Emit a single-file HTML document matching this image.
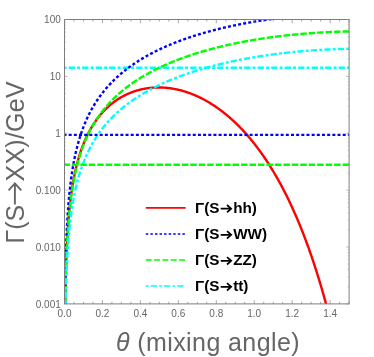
<!DOCTYPE html>
<html><head><meta charset="utf-8"><title>Decay widths vs mixing angle</title><style>
html,body{margin:0;padding:0;background:#fff}body{width:374px;height:357px;position:relative;overflow:hidden;font-family:"Liberation Sans",sans-serif}
</style></head><body>
<svg width="374" height="357" viewBox="0 0 374 357" style="position:absolute;left:0;top:0;will-change:transform;font-family:'Liberation Sans',sans-serif">
<defs><clipPath id="c"><rect x="64.5" y="19.5" width="284.6" height="284.4"/></clipPath>
</defs>
<g clip-path="url(#c)" fill="none" stroke-linecap="butt" stroke-linejoin="round">
<path d="M64.5 67.8 H349.5" stroke="#00ffff" stroke-width="2.4" stroke-dasharray="6.2 2.2 2.9 2.2" stroke-dashoffset="9.3"/>
<path d="M64.57 416.81 L64.58 415.89 L64.58 414.97 L64.58 414.05 L64.58 413.13 L64.58 412.21 L64.58 411.29 L64.58 410.38 L64.59 409.46 L64.59 408.54 L64.59 407.62 L64.59 406.70 L64.59 405.78 L64.59 404.86 L64.60 403.94 L64.60 403.02 L64.60 402.10 L64.60 401.19 L64.60 400.27 L64.61 399.35 L64.61 398.43 L64.61 397.51 L64.61 396.59 L64.61 395.67 L64.62 394.75 L64.62 393.83 L64.62 392.92 L64.62 392.00 L64.62 391.08 L64.63 390.16 L64.63 389.24 L64.63 388.32 L64.63 387.40 L64.64 386.48 L64.64 385.56 L64.64 384.64 L64.64 383.73 L64.65 382.81 L64.65 381.89 L64.65 380.97 L64.66 380.05 L64.66 379.13 L64.66 378.21 L64.66 377.29 L64.67 376.37 L64.67 375.46 L64.67 374.54 L64.68 373.62 L64.68 372.70 L64.68 371.78 L64.69 370.86 L64.69 369.94 L64.69 369.02 L64.70 368.10 L64.70 367.18 L64.71 366.27 L64.71 365.35 L64.71 364.43 L64.72 363.51 L64.72 362.59 L64.73 361.67 L64.73 360.75 L64.73 359.83 L64.74 358.91 L64.74 358.00 L64.75 357.08 L64.75 356.16 L64.76 355.24 L64.76 354.32 L64.77 353.40 L64.77 352.48 L64.78 351.56 L64.78 350.64 L64.79 349.72 L64.79 348.81 L64.80 347.89 L64.80 346.97 L64.81 346.05 L64.82 345.13 L64.82 344.21 L64.83 343.29 L64.83 342.37 L64.84 341.45 L64.85 340.53 L64.85 339.62 L64.86 338.70 L64.87 337.78 L64.87 336.86 L64.88 335.94 L64.89 335.02 L64.90 334.10 L64.90 333.18 L64.91 332.26 L64.92 331.35 L64.93 330.43 L64.93 329.51 L64.94 328.59 L64.95 327.67 L64.96 326.75 L64.97 325.83 L64.98 324.91 L64.99 323.99 L64.99 323.08 L65.00 322.16 L65.01 321.24 L65.02 320.32 L65.03 319.40 L65.04 318.48 L65.05 317.56 L65.06 316.64 L65.07 315.72 L65.08 314.80 L65.10 313.89 L65.11 312.97 L65.12 312.05 L65.13 311.13 L65.14 310.21 L65.15 309.29 L65.17 308.37 L65.18 307.45 L65.19 306.53 L65.20 305.62 L65.22 304.70 L65.23 303.78 L65.24 302.86 L65.26 301.94 L65.27 301.02 L65.29 300.10 L65.30 299.18 L65.32 298.26 L65.33 297.35 L65.35 296.43 L65.36 295.51 L65.38 294.59 L65.40 293.67 L65.41 292.75 L65.43 291.83 L65.45 290.91 L65.47 289.99 L65.48 289.08 L65.50 288.16 L65.52 287.24 L65.54 286.32 L65.56 285.40 L65.58 284.48 L65.60 283.56 L65.62 282.64 L65.64 281.72 L65.66 280.81 L65.69 279.89 L65.71 278.97 L65.73 278.05 L65.75 277.13 L65.78 276.21 L65.80 275.29 L65.83 274.37 L65.85 273.46 L65.88 272.54 L65.90 271.62 L65.93 270.70 L65.96 269.78 L65.98 268.86 L66.01 267.94 L66.04 267.02 L66.07 266.11 L66.10 265.19 L66.13 264.27 L66.16 263.35 L66.19 262.43 L66.22 261.51 L66.25 260.59 L66.29 259.67 L66.32 258.76 L66.35 257.84 L66.39 256.92 L66.42 256.00 L66.46 255.08 L66.50 254.16 L66.53 253.24 L66.57 252.33 L66.61 251.41 L66.65 250.49 L66.69 249.57 L66.73 248.65 L66.78 247.73 L66.82 246.81 L66.86 245.90 L66.91 244.98 L66.95 244.06 L67.00 243.14 L67.04 242.22 L67.09 241.30 L67.14 240.39 L67.19 239.47 L67.24 238.55 L67.29 237.63 L67.34 236.71 L67.40 235.79 L67.45 234.88 L67.51 233.96 L67.56 233.04 L67.62 232.12 L67.68 231.20 L67.74 230.29 L67.80 229.37 L67.86 228.45 L67.93 227.53 L67.99 226.61 L68.06 225.70 L68.12 224.78 L68.19 223.86 L68.26 222.94 L68.33 222.03 L68.40 221.11 L68.48 220.19 L68.55 219.27 L68.63 218.36 L68.71 217.44 L68.79 216.52 L68.87 215.60 L68.95 214.69 L69.03 213.77 L69.12 212.85 L69.20 211.94 L69.29 211.02 L69.38 210.10 L69.47 209.19 L69.57 208.27 L69.66 207.35 L69.76 206.44 L69.86 205.52 L69.96 204.60 L70.06 203.69 L70.17 202.77 L70.27 201.86 L70.38 200.94 L70.49 200.02 L70.60 199.11 L70.72 198.19 L70.84 197.28 L70.95 196.36 L71.08 195.45 L71.20 194.53 L71.33 193.62 L71.45 192.70 L71.58 191.79 L71.72 190.88 L71.85 189.96 L71.99 189.05 L72.13 188.13 L72.28 187.22 L72.42 186.31 L72.57 185.39 L72.72 184.48 L72.88 183.57 L73.03 182.66 L73.19 181.75 L73.36 180.83 L73.52 179.92 L73.69 179.01 L73.87 178.10 L74.04 177.19 L74.22 176.28 L74.40 175.37 L74.59 174.46 L74.78 173.55 L74.97 172.64 L75.17 171.73 L75.37 170.82 L75.58 169.92 L75.78 169.01 L76.00 168.10 L76.21 167.20 L76.43 166.29 L76.66 165.39 L76.88 164.48 L77.12 163.58 L77.35 162.67 L77.60 161.77 L77.84 160.87 L78.09 159.96 L78.35 159.06 L78.61 158.16 L78.87 157.26 L79.14 156.36 L79.42 155.47 L79.70 154.57 L80.15 153.16 L80.60 151.80 L81.05 150.48 L81.50 149.19 L81.95 147.94 L82.40 146.73 L82.85 145.55 L83.30 144.39 L83.75 143.27 L84.20 142.17 L84.65 141.10 L85.10 140.06 L85.55 139.04 L86.00 138.05 L86.44 137.07 L86.89 136.12 L87.34 135.19 L87.79 134.28 L88.24 133.39 L88.69 132.52 L89.14 131.67 L89.59 130.83 L90.04 130.02 L90.49 129.21 L90.94 128.43 L91.39 127.65 L91.84 126.90 L92.29 126.16 L92.74 125.43 L93.19 124.71 L93.64 124.01 L94.09 123.32 L94.54 122.65 L94.99 121.98 L95.44 121.33 L95.89 120.69 L96.34 120.06 L96.79 119.44 L97.24 118.83 L97.69 118.23 L98.14 117.65 L98.59 117.07 L99.04 116.50 L99.49 115.94 L99.94 115.39 L100.38 114.85 L100.83 114.32 L101.28 113.80 L101.73 113.28 L102.18 112.77 L102.63 112.28 L103.08 111.79 L103.53 111.30 L103.98 110.83 L104.43 110.36 L104.88 109.90 L105.33 109.45 L105.78 109.00 L106.23 108.56 L106.68 108.13 L107.13 107.70 L107.58 107.28 L108.03 106.87 L108.48 106.47 L108.93 106.07 L109.38 105.67 L109.83 105.28 L110.28 104.90 L110.73 104.53 L111.18 104.16 L111.63 103.79 L112.08 103.43 L112.53 103.08 L112.98 102.73 L113.43 102.39 L113.87 102.05 L114.32 101.72 L114.77 101.39 L115.22 101.07 L115.67 100.75 L116.12 100.44 L116.57 100.13 L117.02 99.83 L117.47 99.53 L117.92 99.24 L118.37 98.95 L118.82 98.67 L119.27 98.39 L119.72 98.11 L120.17 97.84 L120.62 97.58 L121.07 97.32 L121.52 97.06 L121.97 96.81 L122.42 96.56 L122.87 96.31 L123.32 96.07 L123.77 95.83 L124.22 95.60 L124.67 95.37 L125.12 95.15 L125.57 94.92 L126.02 94.71 L126.47 94.49 L126.92 94.28 L127.36 94.08 L127.81 93.87 L128.26 93.68 L128.71 93.48 L129.16 93.29 L129.61 93.10 L130.06 92.92 L130.51 92.74 L130.96 92.56 L131.41 92.38 L131.86 92.21 L132.31 92.05 L132.76 91.88 L133.21 91.72 L133.66 91.56 L134.11 91.41 L134.56 91.26 L135.01 91.11 L135.46 90.97 L135.91 90.83 L136.36 90.69 L136.81 90.55 L137.26 90.42 L137.71 90.29 L138.16 90.17 L138.61 90.04 L139.06 89.92 L139.51 89.81 L139.96 89.69 L140.41 89.58 L140.85 89.48 L141.30 89.37 L141.75 89.27 L142.20 89.17 L142.65 89.08 L143.10 88.98 L143.55 88.89 L144.00 88.81 L144.45 88.72 L144.90 88.64 L145.35 88.56 L145.80 88.48 L146.25 88.41 L146.70 88.34 L147.15 88.27 L147.60 88.21 L148.05 88.15 L148.50 88.09 L148.95 88.03 L149.40 87.98 L149.85 87.92 L150.30 87.88 L150.75 87.83 L151.20 87.79 L151.65 87.75 L152.10 87.71 L152.55 87.67 L153.00 87.64 L153.45 87.61 L153.89 87.58 L154.34 87.56 L154.79 87.53 L155.24 87.51 L155.69 87.50 L156.14 87.48 L156.59 87.47 L157.04 87.46 L157.49 87.45 L157.94 87.45 L158.39 87.44 L158.84 87.44 L159.29 87.45 L159.74 87.45 L160.19 87.46 L160.64 87.47 L161.09 87.48 L161.54 87.50 L161.99 87.51 L162.44 87.53 L162.89 87.56 L163.34 87.58 L163.79 87.61 L164.24 87.64 L164.69 87.67 L165.14 87.70 L165.59 87.74 L166.04 87.78 L166.49 87.82 L166.94 87.87 L167.38 87.91 L167.83 87.96 L168.28 88.01 L168.73 88.07 L169.18 88.12 L169.63 88.18 L170.08 88.24 L170.53 88.31 L170.98 88.37 L171.43 88.44 L171.88 88.51 L172.33 88.58 L172.78 88.66 L173.23 88.73 L173.68 88.81 L174.13 88.90 L174.58 88.98 L175.03 89.07 L175.48 89.16 L175.93 89.25 L176.38 89.34 L176.83 89.44 L177.28 89.54 L177.73 89.64 L178.18 89.74 L178.63 89.85 L179.08 89.95 L179.53 90.06 L179.98 90.18 L180.43 90.29 L180.88 90.41 L181.32 90.53 L181.77 90.65 L182.22 90.77 L182.67 90.90 L183.12 91.03 L183.57 91.16 L184.02 91.29 L184.47 91.43 L184.92 91.57 L185.37 91.71 L185.82 91.85 L186.27 92.00 L186.72 92.14 L187.17 92.29 L187.62 92.45 L188.07 92.60 L188.52 92.76 L188.97 92.92 L189.42 93.08 L189.87 93.24 L190.32 93.41 L190.77 93.58 L191.22 93.75 L191.67 93.92 L192.12 94.10 L192.57 94.28 L193.02 94.46 L193.47 94.64 L193.92 94.82 L194.36 95.01 L194.81 95.20 L195.26 95.39 L195.71 95.59 L196.16 95.79 L196.61 95.99 L197.06 96.19 L197.51 96.39 L197.96 96.60 L198.41 96.81 L198.86 97.02 L199.31 97.23 L199.76 97.45 L200.21 97.67 L200.66 97.89 L201.11 98.11 L201.56 98.34 L202.01 98.57 L202.46 98.80 L202.91 99.03 L203.36 99.27 L203.81 99.51 L204.26 99.75 L204.71 99.99 L205.16 100.24 L205.61 100.48 L206.06 100.73 L206.51 100.99 L206.96 101.24 L207.41 101.50 L207.85 101.76 L208.30 102.02 L208.75 102.29 L209.20 102.56 L209.65 102.83 L210.10 103.10 L210.55 103.38 L211.00 103.66 L211.45 103.94 L211.90 104.22 L212.35 104.51 L212.80 104.79 L213.25 105.09 L213.70 105.38 L214.15 105.67 L214.60 105.97 L215.05 106.27 L215.50 106.58 L215.95 106.89 L216.40 107.19 L216.85 107.51 L217.30 107.82 L217.75 108.14 L218.20 108.46 L218.65 108.78 L219.10 109.11 L219.55 109.43 L220.00 109.76 L220.45 110.10 L220.90 110.43 L221.34 110.77 L221.79 111.11 L222.24 111.46 L222.69 111.80 L223.14 112.15 L223.59 112.50 L224.04 112.86 L224.49 113.22 L224.94 113.58 L225.39 113.94 L225.84 114.31 L226.29 114.68 L226.74 115.05 L227.19 115.42 L227.64 115.80 L228.09 116.18 L228.54 116.56 L228.99 116.95 L229.44 117.34 L229.89 117.73 L230.34 118.12 L230.79 118.52 L231.24 118.92 L231.69 119.33 L232.14 119.73 L232.59 120.14 L233.04 120.55 L233.49 120.97 L233.94 121.39 L234.39 121.81 L234.83 122.23 L235.28 122.66 L235.73 123.09 L236.18 123.52 L236.63 123.96 L237.08 124.40 L237.53 124.84 L237.98 125.29 L238.43 125.74 L238.88 126.19 L239.33 126.64 L239.78 127.10 L240.23 127.56 L240.68 128.03 L241.13 128.50 L241.58 128.97 L242.03 129.44 L242.48 129.92 L242.93 130.40 L243.38 130.89 L243.83 131.37 L244.28 131.86 L244.73 132.36 L245.18 132.86 L245.63 133.36 L246.08 133.86 L246.53 134.37 L246.98 134.88 L247.43 135.39 L247.88 135.91 L248.32 136.43 L248.77 136.96 L249.22 137.49 L249.67 138.02 L250.12 138.55 L250.57 139.09 L251.02 139.63 L251.47 140.18 L251.92 140.73 L252.37 141.28 L252.82 141.84 L253.27 142.40 L253.72 142.96 L254.17 143.53 L254.62 144.10 L255.07 144.68 L255.52 145.26 L255.97 145.84 L256.42 146.43 L256.87 147.02 L257.32 147.61 L257.77 148.21 L258.22 148.81 L258.67 149.42 L259.12 150.03 L259.57 150.64 L260.02 151.26 L260.47 151.88 L260.92 152.50 L261.37 153.13 L261.81 153.77 L262.26 154.41 L262.71 155.05 L263.16 155.69 L263.61 156.34 L264.06 157.00 L264.51 157.66 L264.96 158.32 L265.41 158.99 L265.86 159.66 L266.31 160.33 L266.76 161.01 L267.21 161.70 L267.66 162.38 L268.11 163.08 L268.56 163.78 L269.01 164.48 L269.46 165.18 L269.91 165.89 L270.36 166.61 L270.81 167.33 L271.26 168.05 L271.71 168.78 L272.16 169.52 L272.61 170.26 L273.06 171.00 L273.51 171.75 L273.96 172.50 L274.41 173.26 L274.86 174.02 L275.30 174.79 L275.75 175.56 L276.20 176.34 L276.65 177.12 L277.10 177.91 L277.55 178.70 L278.00 179.50 L278.45 180.30 L278.90 181.11 L279.35 181.92 L279.80 182.74 L280.25 183.56 L280.70 184.39 L281.15 185.22 L281.60 186.06 L282.05 186.91 L282.50 187.76 L282.95 188.61 L283.40 189.47 L283.85 190.34 L284.30 191.21 L284.75 192.09 L285.20 192.97 L285.65 193.86 L286.10 194.76 L286.55 195.66 L287.00 196.57 L287.45 197.48 L287.90 198.40 L288.35 199.32 L288.80 200.25 L289.24 201.19 L289.69 202.13 L290.14 203.08 L290.59 204.04 L291.04 205.00 L291.49 205.97 L291.94 206.94 L292.39 207.92 L292.84 208.91 L293.29 209.90 L293.74 210.90 L294.19 211.91 L294.64 212.92 L295.09 213.94 L295.54 214.97 L295.99 216.00 L296.44 217.04 L296.89 218.09 L297.34 219.15 L297.79 220.21 L298.24 221.28 L298.69 222.35 L299.14 223.43 L299.59 224.53 L300.04 225.62 L300.49 226.73 L300.94 227.84 L301.39 228.96 L301.84 230.09 L302.29 231.22 L302.73 232.37 L303.18 233.52 L303.63 234.68 L304.08 235.84 L304.53 237.02 L304.98 238.20 L305.43 239.39 L305.88 240.59 L306.33 241.80 L306.78 243.01 L307.23 244.23 L307.68 245.47 L308.13 246.71 L308.58 247.96 L309.03 249.21 L309.48 250.48 L309.93 251.75 L310.38 253.04 L310.83 254.33 L311.28 255.63 L311.73 256.94 L312.18 258.26 L312.63 259.59 L313.08 260.93 L313.53 262.28 L313.98 263.64 L314.43 265.00 L314.88 266.38 L315.33 267.77 L315.77 269.16 L316.22 270.57 L316.67 271.98 L317.12 273.41 L317.57 274.84 L318.02 276.29 L318.47 277.75 L318.92 279.21 L319.37 280.69 L319.82 282.17 L320.27 283.67 L320.72 285.18 L321.17 286.70 L321.62 288.22 L322.07 289.76 L322.52 291.31 L322.97 292.87 L323.42 294.44 L323.87 296.02 L324.32 297.62 L324.77 299.22 L325.22 300.84 L325.67 302.46 L326.12 304.10 L326.57 305.74 L327.02 307.40 L327.47 309.07 L327.92 310.75 L328.37 312.44 L328.82 314.14 L329.26 315.86 L329.71 317.58 L330.16 319.31 L330.61 321.06 L331.06 322.81 L331.51 324.58 L331.96 326.35 L332.41 328.14 L332.86 329.94 L333.31 331.74 L333.76 333.56 L334.21 335.38 L334.66 337.21 L335.11 339.05 L335.56 340.90 L336.01 342.76 L336.46 344.62 L336.91 346.50 L337.36 348.37 L337.81 350.26 L338.26 352.14 L338.71 354.03 L339.16 355.93 L339.61 357.82 L340.06 359.72 L340.51 361.62 L340.96 363.51 L341.41 365.40 L341.86 367.29 L342.31 369.17 L342.75 371.04 L343.20 372.90 L343.65 374.74 L344.10 376.57 L344.55 378.38 L345.00 380.17 L345.45 381.92 L345.90 383.65 L346.35 385.34 L346.80 386.98 L347.25 388.58 L347.70 390.12 L348.15 391.59 L348.60 392.99 L349.05 394.30 L349.50 395.52" stroke="#ff0000" stroke-width="2.4"/>
<path d="M64.56 413.46 L64.56 412.54 L64.56 411.62 L64.56 410.70 L64.56 409.78 L64.56 408.87 L64.56 407.95 L64.56 407.03 L64.57 406.11 L64.57 405.19 L64.57 404.27 L64.57 403.35 L64.57 402.43 L64.57 401.51 L64.57 400.60 L64.58 399.68 L64.58 398.76 L64.58 397.84 L64.58 396.92 L64.58 396.00 L64.58 395.08 L64.58 394.16 L64.59 393.24 L64.59 392.32 L64.59 391.41 L64.59 390.49 L64.59 389.57 L64.59 388.65 L64.60 387.73 L64.60 386.81 L64.60 385.89 L64.60 384.97 L64.60 384.05 L64.61 383.14 L64.61 382.22 L64.61 381.30 L64.61 380.38 L64.61 379.46 L64.62 378.54 L64.62 377.62 L64.62 376.70 L64.62 375.78 L64.62 374.86 L64.63 373.95 L64.63 373.03 L64.63 372.11 L64.63 371.19 L64.64 370.27 L64.64 369.35 L64.64 368.43 L64.64 367.51 L64.65 366.59 L64.65 365.68 L64.65 364.76 L64.66 363.84 L64.66 362.92 L64.66 362.00 L64.66 361.08 L64.67 360.16 L64.67 359.24 L64.67 358.32 L64.68 357.40 L64.68 356.49 L64.68 355.57 L64.69 354.65 L64.69 353.73 L64.69 352.81 L64.70 351.89 L64.70 350.97 L64.71 350.05 L64.71 349.13 L64.71 348.21 L64.72 347.30 L64.72 346.38 L64.73 345.46 L64.73 344.54 L64.73 343.62 L64.74 342.70 L64.74 341.78 L64.75 340.86 L64.75 339.94 L64.76 339.03 L64.76 338.11 L64.77 337.19 L64.77 336.27 L64.78 335.35 L64.78 334.43 L64.79 333.51 L64.79 332.59 L64.80 331.67 L64.80 330.75 L64.81 329.84 L64.82 328.92 L64.82 328.00 L64.83 327.08 L64.83 326.16 L64.84 325.24 L64.85 324.32 L64.85 323.40 L64.86 322.48 L64.87 321.57 L64.87 320.65 L64.88 319.73 L64.89 318.81 L64.90 317.89 L64.90 316.97 L64.91 316.05 L64.92 315.13 L64.93 314.21 L64.93 313.29 L64.94 312.38 L64.95 311.46 L64.96 310.54 L64.97 309.62 L64.98 308.70 L64.99 307.78 L64.99 306.86 L65.00 305.94 L65.01 305.02 L65.02 304.10 L65.03 303.19 L65.04 302.27 L65.05 301.35 L65.06 300.43 L65.07 299.51 L65.08 298.59 L65.10 297.67 L65.11 296.75 L65.12 295.83 L65.13 294.92 L65.14 294.00 L65.15 293.08 L65.17 292.16 L65.18 291.24 L65.19 290.32 L65.20 289.40 L65.22 288.48 L65.23 287.56 L65.24 286.64 L65.26 285.73 L65.27 284.81 L65.29 283.89 L65.30 282.97 L65.32 282.05 L65.33 281.13 L65.35 280.21 L65.36 279.29 L65.38 278.37 L65.40 277.46 L65.41 276.54 L65.43 275.62 L65.45 274.70 L65.47 273.78 L65.48 272.86 L65.50 271.94 L65.52 271.02 L65.54 270.10 L65.56 269.18 L65.58 268.27 L65.60 267.35 L65.62 266.43 L65.64 265.51 L65.66 264.59 L65.69 263.67 L65.71 262.75 L65.73 261.83 L65.75 260.91 L65.78 260.00 L65.80 259.08 L65.83 258.16 L65.85 257.24 L65.88 256.32 L65.90 255.40 L65.93 254.48 L65.96 253.56 L65.98 252.64 L66.01 251.72 L66.04 250.81 L66.07 249.89 L66.10 248.97 L66.13 248.05 L66.16 247.13 L66.19 246.21 L66.22 245.29 L66.25 244.37 L66.29 243.45 L66.32 242.54 L66.35 241.62 L66.39 240.70 L66.42 239.78 L66.46 238.86 L66.50 237.94 L66.53 237.02 L66.57 236.10 L66.61 235.18 L66.65 234.27 L66.69 233.35 L66.73 232.43 L66.78 231.51 L66.82 230.59 L66.86 229.67 L66.91 228.75 L66.95 227.83 L67.00 226.91 L67.04 226.00 L67.09 225.08 L67.14 224.16 L67.19 223.24 L67.24 222.32 L67.29 221.40 L67.34 220.48 L67.40 219.56 L67.45 218.64 L67.51 217.73 L67.56 216.81 L67.62 215.89 L67.68 214.97 L67.74 214.05 L67.80 213.13 L67.86 212.21 L67.93 211.29 L67.99 210.37 L68.06 209.46 L68.12 208.54 L68.19 207.62 L68.26 206.70 L68.33 205.78 L68.40 204.86 L68.48 203.94 L68.55 203.02 L68.63 202.10 L68.71 201.19 L68.79 200.27 L68.87 199.35 L68.95 198.43 L69.03 197.51 L69.12 196.59 L69.20 195.67 L69.29 194.75 L69.38 193.84 L69.47 192.92 L69.57 192.00 L69.66 191.08 L69.76 190.16 L69.86 189.24 L69.96 188.32 L70.06 187.40 L70.17 186.49 L70.27 185.57 L70.38 184.65 L70.49 183.73 L70.60 182.81 L70.72 181.89 L70.84 180.97 L70.95 180.06 L71.08 179.14 L71.20 178.22 L71.33 177.30 L71.45 176.38 L71.58 175.46 L71.72 174.54 L71.85 173.63 L71.99 172.71 L72.13 171.79 L72.28 170.87 L72.42 169.95 L72.57 169.03 L72.72 168.11 L72.88 167.20 L73.03 166.28 L73.19 165.36 L73.36 164.44 L73.52 163.52 L73.69 162.60 L73.87 161.69 L74.04 160.77 L74.22 159.85 L74.40 158.93 L74.59 158.01 L74.78 157.10 L74.97 156.18 L75.17 155.26 L75.37 154.34 L75.58 153.42 L75.78 152.51 L76.00 151.59 L76.21 150.67 L76.43 149.75 L76.66 148.83 L76.88 147.92 L77.12 147.00 L77.35 146.08 L77.60 145.16 L77.84 144.25 L78.09 143.33 L78.35 142.41 L78.61 141.49 L78.87 140.58 L79.14 139.66 L79.42 138.74 L79.70 137.83 L80.15 136.39 L80.60 135.00 L81.05 133.64 L81.50 132.32 L81.95 131.03 L82.40 129.78 L82.85 128.56 L83.30 127.37 L83.75 126.21 L84.20 125.07 L84.65 123.96 L85.10 122.88 L85.55 121.82 L86.00 120.78 L86.44 119.76 L86.89 118.76 L87.34 117.79 L87.79 116.83 L88.24 115.89 L88.69 114.97 L89.14 114.06 L89.59 113.18 L90.04 112.31 L90.49 111.45 L90.94 110.61 L91.39 109.78 L91.84 108.97 L92.29 108.17 L92.74 107.38 L93.19 106.61 L93.64 105.85 L94.09 105.10 L94.54 104.36 L94.99 103.63 L95.44 102.92 L95.89 102.21 L96.34 101.52 L96.79 100.83 L97.24 100.15 L97.69 99.49 L98.14 98.83 L98.59 98.18 L99.04 97.54 L99.49 96.91 L99.94 96.29 L100.38 95.67 L100.83 95.07 L101.28 94.47 L101.73 93.87 L102.18 93.29 L102.63 92.71 L103.08 92.14 L103.53 91.58 L103.98 91.02 L104.43 90.47 L104.88 89.92 L105.33 89.39 L105.78 88.85 L106.23 88.33 L106.68 87.81 L107.13 87.29 L107.58 86.78 L108.03 86.28 L108.48 85.78 L108.93 85.29 L109.38 84.80 L109.83 84.32 L110.28 83.84 L110.73 83.37 L111.18 82.90 L111.63 82.44 L112.08 81.98 L112.53 81.52 L112.98 81.07 L113.43 80.63 L113.87 80.19 L114.32 79.75 L114.77 79.31 L115.22 78.89 L115.67 78.46 L116.12 78.04 L116.57 77.62 L117.02 77.21 L117.47 76.80 L117.92 76.39 L118.37 75.99 L118.82 75.59 L119.27 75.20 L119.72 74.80 L120.17 74.41 L120.62 74.03 L121.07 73.65 L121.52 73.27 L121.97 72.89 L122.42 72.52 L122.87 72.15 L123.32 71.78 L123.77 71.42 L124.22 71.06 L124.67 70.70 L125.12 70.34 L125.57 69.99 L126.02 69.64 L126.47 69.30 L126.92 68.95 L127.36 68.61 L127.81 68.27 L128.26 67.94 L128.71 67.60 L129.16 67.27 L129.61 66.94 L130.06 66.62 L130.51 66.29 L130.96 65.97 L131.41 65.65 L131.86 65.34 L132.31 65.02 L132.76 64.71 L133.21 64.40 L133.66 64.09 L134.11 63.79 L134.56 63.48 L135.01 63.18 L135.46 62.88 L135.91 62.59 L136.36 62.29 L136.81 62.00 L137.26 61.71 L137.71 61.42 L138.16 61.13 L138.61 60.85 L139.06 60.56 L139.51 60.28 L139.96 60.00 L140.41 59.72 L140.85 59.45 L141.30 59.17 L141.75 58.90 L142.20 58.63 L142.65 58.36 L143.10 58.10 L143.55 57.83 L144.00 57.57 L144.45 57.31 L144.90 57.05 L145.35 56.79 L145.80 56.53 L146.25 56.28 L146.70 56.02 L147.15 55.77 L147.60 55.52 L148.05 55.27 L148.50 55.02 L148.95 54.78 L149.40 54.53 L149.85 54.29 L150.30 54.05 L150.75 53.81 L151.20 53.57 L151.65 53.33 L152.10 53.10 L152.55 52.86 L153.00 52.63 L153.45 52.40 L153.89 52.17 L154.34 51.94 L154.79 51.71 L155.24 51.48 L155.69 51.26 L156.14 51.03 L156.59 50.81 L157.04 50.59 L157.49 50.37 L157.94 50.15 L158.39 49.93 L158.84 49.72 L159.29 49.50 L159.74 49.29 L160.19 49.08 L160.64 48.87 L161.09 48.66 L161.54 48.45 L161.99 48.24 L162.44 48.03 L162.89 47.83 L163.34 47.62 L163.79 47.42 L164.24 47.22 L164.69 47.01 L165.14 46.81 L165.59 46.62 L166.04 46.42 L166.49 46.22 L166.94 46.03 L167.38 45.83 L167.83 45.64 L168.28 45.44 L168.73 45.25 L169.18 45.06 L169.63 44.87 L170.08 44.68 L170.53 44.50 L170.98 44.31 L171.43 44.12 L171.88 43.94 L172.33 43.76 L172.78 43.57 L173.23 43.39 L173.68 43.21 L174.13 43.03 L174.58 42.85 L175.03 42.67 L175.48 42.50 L175.93 42.32 L176.38 42.14 L176.83 41.97 L177.28 41.80 L177.73 41.62 L178.18 41.45 L178.63 41.28 L179.08 41.11 L179.53 40.94 L179.98 40.77 L180.43 40.61 L180.88 40.44 L181.32 40.27 L181.77 40.11 L182.22 39.94 L182.67 39.78 L183.12 39.62 L183.57 39.46 L184.02 39.30 L184.47 39.14 L184.92 38.98 L185.37 38.82 L185.82 38.66 L186.27 38.50 L186.72 38.35 L187.17 38.19 L187.62 38.04 L188.07 37.88 L188.52 37.73 L188.97 37.58 L189.42 37.43 L189.87 37.28 L190.32 37.12 L190.77 36.98 L191.22 36.83 L191.67 36.68 L192.12 36.53 L192.57 36.38 L193.02 36.24 L193.47 36.09 L193.92 35.95 L194.36 35.81 L194.81 35.66 L195.26 35.52 L195.71 35.38 L196.16 35.24 L196.61 35.10 L197.06 34.96 L197.51 34.82 L197.96 34.68 L198.41 34.54 L198.86 34.41 L199.31 34.27 L199.76 34.13 L200.21 34.00 L200.66 33.86 L201.11 33.73 L201.56 33.60 L202.01 33.46 L202.46 33.33 L202.91 33.20 L203.36 33.07 L203.81 32.94 L204.26 32.81 L204.71 32.68 L205.16 32.55 L205.61 32.43 L206.06 32.30 L206.51 32.17 L206.96 32.05 L207.41 31.92 L207.85 31.80 L208.30 31.67 L208.75 31.55 L209.20 31.43 L209.65 31.31 L210.10 31.18 L210.55 31.06 L211.00 30.94 L211.45 30.82 L211.90 30.70 L212.35 30.58 L212.80 30.47 L213.25 30.35 L213.70 30.23 L214.15 30.12 L214.60 30.00 L215.05 29.88 L215.50 29.77 L215.95 29.65 L216.40 29.54 L216.85 29.43 L217.30 29.31 L217.75 29.20 L218.20 29.09 L218.65 28.98 L219.10 28.87 L219.55 28.76 L220.00 28.65 L220.45 28.54 L220.90 28.43 L221.34 28.32 L221.79 28.22 L222.24 28.11 L222.69 28.00 L223.14 27.90 L223.59 27.79 L224.04 27.69 L224.49 27.58 L224.94 27.48 L225.39 27.37 L225.84 27.27 L226.29 27.17 L226.74 27.07 L227.19 26.96 L227.64 26.86 L228.09 26.76 L228.54 26.66 L228.99 26.56 L229.44 26.46 L229.89 26.37 L230.34 26.27 L230.79 26.17 L231.24 26.07 L231.69 25.98 L232.14 25.88 L232.59 25.78 L233.04 25.69 L233.49 25.59 L233.94 25.50 L234.39 25.40 L234.83 25.31 L235.28 25.22 L235.73 25.12 L236.18 25.03 L236.63 24.94 L237.08 24.85 L237.53 24.76 L237.98 24.67 L238.43 24.58 L238.88 24.49 L239.33 24.40 L239.78 24.31 L240.23 24.22 L240.68 24.13 L241.13 24.05 L241.58 23.96 L242.03 23.87 L242.48 23.79 L242.93 23.70 L243.38 23.62 L243.83 23.53 L244.28 23.45 L244.73 23.36 L245.18 23.28 L245.63 23.20 L246.08 23.11 L246.53 23.03 L246.98 22.95 L247.43 22.87 L247.88 22.79 L248.32 22.71 L248.77 22.63 L249.22 22.55 L249.67 22.47 L250.12 22.39 L250.57 22.31 L251.02 22.23 L251.47 22.15 L251.92 22.08 L252.37 22.00 L252.82 21.92 L253.27 21.85 L253.72 21.77 L254.17 21.69 L254.62 21.62 L255.07 21.54 L255.52 21.47 L255.97 21.40 L256.42 21.32 L256.87 21.25 L257.32 21.18 L257.77 21.10 L258.22 21.03 L258.67 20.96 L259.12 20.89 L259.57 20.82 L260.02 20.75 L260.47 20.68 L260.92 20.61 L261.37 20.54 L261.81 20.47 L262.26 20.40 L262.71 20.33 L263.16 20.27 L263.61 20.20 L264.06 20.13 L264.51 20.06 L264.96 20.00 L265.41 19.93 L265.86 19.87 L266.31 19.80 L266.76 19.74 L267.21 19.67 L267.66 19.61 L268.11 19.54 L268.56 19.48 L269.01 19.42 L269.46 19.35 L269.91 19.29 L270.36 19.23 L270.81 19.17 L271.26 19.11 L271.71 19.04 L272.16 18.98 L272.61 18.92 L273.06 18.86 L273.51 18.80 L273.96 18.75 L274.41 18.69 L274.86 18.63 L275.30 18.57 L275.75 18.51 L276.20 18.45 L276.65 18.40 L277.10 18.34 L277.55 18.28 L278.00 18.23 L278.45 18.17 L278.90 18.12 L279.35 18.06 L279.80 18.01 L280.25 17.95 L280.70 17.90 L281.15 17.84 L281.60 17.79 L282.05 17.74 L282.50 17.68 L282.95 17.63 L283.40 17.58 L283.85 17.53 L284.30 17.48 L284.75 17.42 L285.20 17.37 L285.65 17.32 L286.10 17.27 L286.55 17.22 L287.00 17.17 L287.45 17.12 L287.90 17.08 L288.35 17.03 L288.80 16.98 L289.24 16.93 L289.69 16.88 L290.14 16.84 L290.59 16.79 L291.04 16.74 L291.49 16.70 L291.94 16.65 L292.39 16.61 L292.84 16.56 L293.29 16.51 L293.74 16.47 L294.19 16.43 L294.64 16.38 L295.09 16.34 L295.54 16.29 L295.99 16.25 L296.44 16.21 L296.89 16.17 L297.34 16.12 L297.79 16.08 L298.24 16.04 L298.69 16.00 L299.14 15.96 L299.59 15.92 L300.04 15.88 L300.49 15.84 L300.94 15.80 L301.39 15.76 L301.84 15.72 L302.29 15.68 L302.73 15.64 L303.18 15.60 L303.63 15.57 L304.08 15.53 L304.53 15.49 L304.98 15.45 L305.43 15.42 L305.88 15.38 L306.33 15.35 L306.78 15.31 L307.23 15.27 L307.68 15.24 L308.13 15.20 L308.58 15.17 L309.03 15.14 L309.48 15.10 L309.93 15.07 L310.38 15.03 L310.83 15.00 L311.28 14.97 L311.73 14.94 L312.18 14.90 L312.63 14.87 L313.08 14.84 L313.53 14.81 L313.98 14.78 L314.43 14.75 L314.88 14.72 L315.33 14.69 L315.77 14.66 L316.22 14.63 L316.67 14.60 L317.12 14.57 L317.57 14.54 L318.02 14.51 L318.47 14.49 L318.92 14.46 L319.37 14.43 L319.82 14.40 L320.27 14.38 L320.72 14.35 L321.17 14.32 L321.62 14.30 L322.07 14.27 L322.52 14.25 L322.97 14.22 L323.42 14.20 L323.87 14.17 L324.32 14.15 L324.77 14.12 L325.22 14.10 L325.67 14.08 L326.12 14.05 L326.57 14.03 L327.02 14.01 L327.47 13.99 L327.92 13.96 L328.37 13.94 L328.82 13.92 L329.26 13.90 L329.71 13.88 L330.16 13.86 L330.61 13.84 L331.06 13.82 L331.51 13.80 L331.96 13.78 L332.41 13.76 L332.86 13.74 L333.31 13.72 L333.76 13.71 L334.21 13.69 L334.66 13.67 L335.11 13.65 L335.56 13.64 L336.01 13.62 L336.46 13.60 L336.91 13.59 L337.36 13.57 L337.81 13.55 L338.26 13.54 L338.71 13.52 L339.16 13.51 L339.61 13.49 L340.06 13.48 L340.51 13.47 L340.96 13.45 L341.41 13.44 L341.86 13.43 L342.31 13.41 L342.75 13.40 L343.20 13.39 L343.65 13.38 L344.10 13.36 L344.55 13.35 L345.00 13.34 L345.45 13.33 L345.90 13.32 L346.35 13.31 L346.80 13.30 L347.25 13.29 L347.70 13.28 L348.15 13.27 L348.60 13.26 L349.05 13.25 L349.50 13.24" stroke="#0000ff" stroke-width="2.4" stroke-dasharray="3.0 2.17" stroke-dashoffset="3.55"/>
<path d="M64.58 416.93 L64.58 416.01 L64.58 415.10 L64.58 414.18 L64.58 413.26 L64.58 412.34 L64.59 411.42 L64.59 410.50 L64.59 409.58 L64.59 408.66 L64.59 407.74 L64.59 406.82 L64.60 405.91 L64.60 404.99 L64.60 404.07 L64.60 403.15 L64.60 402.23 L64.61 401.31 L64.61 400.39 L64.61 399.47 L64.61 398.55 L64.61 397.63 L64.62 396.72 L64.62 395.80 L64.62 394.88 L64.62 393.96 L64.62 393.04 L64.63 392.12 L64.63 391.20 L64.63 390.28 L64.63 389.36 L64.64 388.45 L64.64 387.53 L64.64 386.61 L64.64 385.69 L64.65 384.77 L64.65 383.85 L64.65 382.93 L64.66 382.01 L64.66 381.09 L64.66 380.17 L64.66 379.26 L64.67 378.34 L64.67 377.42 L64.67 376.50 L64.68 375.58 L64.68 374.66 L64.68 373.74 L64.69 372.82 L64.69 371.90 L64.69 370.99 L64.70 370.07 L64.70 369.15 L64.71 368.23 L64.71 367.31 L64.71 366.39 L64.72 365.47 L64.72 364.55 L64.73 363.63 L64.73 362.71 L64.73 361.80 L64.74 360.88 L64.74 359.96 L64.75 359.04 L64.75 358.12 L64.76 357.20 L64.76 356.28 L64.77 355.36 L64.77 354.44 L64.78 353.52 L64.78 352.61 L64.79 351.69 L64.79 350.77 L64.80 349.85 L64.80 348.93 L64.81 348.01 L64.82 347.09 L64.82 346.17 L64.83 345.25 L64.83 344.34 L64.84 343.42 L64.85 342.50 L64.85 341.58 L64.86 340.66 L64.87 339.74 L64.87 338.82 L64.88 337.90 L64.89 336.98 L64.90 336.06 L64.90 335.15 L64.91 334.23 L64.92 333.31 L64.93 332.39 L64.93 331.47 L64.94 330.55 L64.95 329.63 L64.96 328.71 L64.97 327.79 L64.98 326.88 L64.99 325.96 L64.99 325.04 L65.00 324.12 L65.01 323.20 L65.02 322.28 L65.03 321.36 L65.04 320.44 L65.05 319.52 L65.06 318.60 L65.07 317.69 L65.08 316.77 L65.10 315.85 L65.11 314.93 L65.12 314.01 L65.13 313.09 L65.14 312.17 L65.15 311.25 L65.17 310.33 L65.18 309.42 L65.19 308.50 L65.20 307.58 L65.22 306.66 L65.23 305.74 L65.24 304.82 L65.26 303.90 L65.27 302.98 L65.29 302.06 L65.30 301.14 L65.32 300.23 L65.33 299.31 L65.35 298.39 L65.36 297.47 L65.38 296.55 L65.40 295.63 L65.41 294.71 L65.43 293.79 L65.45 292.87 L65.47 291.96 L65.48 291.04 L65.50 290.12 L65.52 289.20 L65.54 288.28 L65.56 287.36 L65.58 286.44 L65.60 285.52 L65.62 284.60 L65.64 283.68 L65.66 282.77 L65.69 281.85 L65.71 280.93 L65.73 280.01 L65.75 279.09 L65.78 278.17 L65.80 277.25 L65.83 276.33 L65.85 275.41 L65.88 274.50 L65.90 273.58 L65.93 272.66 L65.96 271.74 L65.98 270.82 L66.01 269.90 L66.04 268.98 L66.07 268.06 L66.10 267.14 L66.13 266.22 L66.16 265.31 L66.19 264.39 L66.22 263.47 L66.25 262.55 L66.29 261.63 L66.32 260.71 L66.35 259.79 L66.39 258.87 L66.42 257.95 L66.46 257.04 L66.50 256.12 L66.53 255.20 L66.57 254.28 L66.61 253.36 L66.65 252.44 L66.69 251.52 L66.73 250.60 L66.78 249.68 L66.82 248.77 L66.86 247.85 L66.91 246.93 L66.95 246.01 L67.00 245.09 L67.04 244.17 L67.09 243.25 L67.14 242.33 L67.19 241.41 L67.24 240.49 L67.29 239.58 L67.34 238.66 L67.40 237.74 L67.45 236.82 L67.51 235.90 L67.56 234.98 L67.62 234.06 L67.68 233.14 L67.74 232.22 L67.80 231.31 L67.86 230.39 L67.93 229.47 L67.99 228.55 L68.06 227.63 L68.12 226.71 L68.19 225.79 L68.26 224.87 L68.33 223.96 L68.40 223.04 L68.48 222.12 L68.55 221.20 L68.63 220.28 L68.71 219.36 L68.79 218.44 L68.87 217.52 L68.95 216.60 L69.03 215.69 L69.12 214.77 L69.20 213.85 L69.29 212.93 L69.38 212.01 L69.47 211.09 L69.57 210.17 L69.66 209.25 L69.76 208.34 L69.86 207.42 L69.96 206.50 L70.06 205.58 L70.17 204.66 L70.27 203.74 L70.38 202.82 L70.49 201.91 L70.60 200.99 L70.72 200.07 L70.84 199.15 L70.95 198.23 L71.08 197.31 L71.20 196.39 L71.33 195.47 L71.45 194.56 L71.58 193.64 L71.72 192.72 L71.85 191.80 L71.99 190.88 L72.13 189.96 L72.28 189.05 L72.42 188.13 L72.57 187.21 L72.72 186.29 L72.88 185.37 L73.03 184.45 L73.19 183.54 L73.36 182.62 L73.52 181.70 L73.69 180.78 L73.87 179.86 L74.04 178.94 L74.22 178.03 L74.40 177.11 L74.59 176.19 L74.78 175.27 L74.97 174.35 L75.17 173.44 L75.37 172.52 L75.58 171.60 L75.78 170.68 L76.00 169.76 L76.21 168.85 L76.43 167.93 L76.66 167.01 L76.88 166.09 L77.12 165.18 L77.35 164.26 L77.60 163.34 L77.84 162.42 L78.09 161.51 L78.35 160.59 L78.61 159.67 L78.87 158.75 L79.14 157.84 L79.42 156.92 L79.70 156.00 L80.15 154.57 L80.60 153.17 L81.05 151.82 L81.50 150.50 L81.95 149.21 L82.40 147.96 L82.85 146.74 L83.30 145.55 L83.75 144.38 L84.20 143.25 L84.65 142.14 L85.10 141.05 L85.55 139.99 L86.00 138.95 L86.44 137.93 L86.89 136.94 L87.34 135.96 L87.79 135.00 L88.24 134.07 L88.69 133.14 L89.14 132.24 L89.59 131.35 L90.04 130.48 L90.49 129.63 L90.94 128.78 L91.39 127.96 L91.84 127.14 L92.29 126.35 L92.74 125.56 L93.19 124.79 L93.64 124.02 L94.09 123.27 L94.54 122.54 L94.99 121.81 L95.44 121.09 L95.89 120.39 L96.34 119.69 L96.79 119.01 L97.24 118.33 L97.69 117.66 L98.14 117.01 L98.59 116.36 L99.04 115.72 L99.49 115.09 L99.94 114.46 L100.38 113.85 L100.83 113.24 L101.28 112.64 L101.73 112.05 L102.18 111.46 L102.63 110.89 L103.08 110.32 L103.53 109.75 L103.98 109.19 L104.43 108.64 L104.88 108.10 L105.33 107.56 L105.78 107.03 L106.23 106.50 L106.68 105.98 L107.13 105.47 L107.58 104.96 L108.03 104.46 L108.48 103.96 L108.93 103.46 L109.38 102.98 L109.83 102.49 L110.28 102.02 L110.73 101.54 L111.18 101.07 L111.63 100.61 L112.08 100.15 L112.53 99.70 L112.98 99.25 L113.43 98.80 L113.87 98.36 L114.32 97.92 L114.77 97.49 L115.22 97.06 L115.67 96.64 L116.12 96.22 L116.57 95.80 L117.02 95.38 L117.47 94.97 L117.92 94.57 L118.37 94.17 L118.82 93.77 L119.27 93.37 L119.72 92.98 L120.17 92.59 L120.62 92.20 L121.07 91.82 L121.52 91.44 L121.97 91.07 L122.42 90.69 L122.87 90.32 L123.32 89.96 L123.77 89.59 L124.22 89.23 L124.67 88.88 L125.12 88.52 L125.57 88.17 L126.02 87.82 L126.47 87.47 L126.92 87.13 L127.36 86.79 L127.81 86.45 L128.26 86.11 L128.71 85.78 L129.16 85.45 L129.61 85.12 L130.06 84.79 L130.51 84.47 L130.96 84.15 L131.41 83.83 L131.86 83.51 L132.31 83.20 L132.76 82.89 L133.21 82.58 L133.66 82.27 L134.11 81.96 L134.56 81.66 L135.01 81.36 L135.46 81.06 L135.91 80.76 L136.36 80.47 L136.81 80.17 L137.26 79.88 L137.71 79.59 L138.16 79.31 L138.61 79.02 L139.06 78.74 L139.51 78.46 L139.96 78.18 L140.41 77.90 L140.85 77.62 L141.30 77.35 L141.75 77.08 L142.20 76.81 L142.65 76.54 L143.10 76.27 L143.55 76.01 L144.00 75.74 L144.45 75.48 L144.90 75.22 L145.35 74.96 L145.80 74.71 L146.25 74.45 L146.70 74.20 L147.15 73.94 L147.60 73.69 L148.05 73.45 L148.50 73.20 L148.95 72.95 L149.40 72.71 L149.85 72.46 L150.30 72.22 L150.75 71.98 L151.20 71.74 L151.65 71.51 L152.10 71.27 L152.55 71.04 L153.00 70.80 L153.45 70.57 L153.89 70.34 L154.34 70.11 L154.79 69.88 L155.24 69.66 L155.69 69.43 L156.14 69.21 L156.59 68.99 L157.04 68.77 L157.49 68.55 L157.94 68.33 L158.39 68.11 L158.84 67.89 L159.29 67.68 L159.74 67.46 L160.19 67.25 L160.64 67.04 L161.09 66.83 L161.54 66.62 L161.99 66.41 L162.44 66.21 L162.89 66.00 L163.34 65.80 L163.79 65.59 L164.24 65.39 L164.69 65.19 L165.14 64.99 L165.59 64.79 L166.04 64.59 L166.49 64.40 L166.94 64.20 L167.38 64.01 L167.83 63.81 L168.28 63.62 L168.73 63.43 L169.18 63.24 L169.63 63.05 L170.08 62.86 L170.53 62.67 L170.98 62.49 L171.43 62.30 L171.88 62.11 L172.33 61.93 L172.78 61.75 L173.23 61.57 L173.68 61.39 L174.13 61.21 L174.58 61.03 L175.03 60.85 L175.48 60.67 L175.93 60.50 L176.38 60.32 L176.83 60.15 L177.28 59.97 L177.73 59.80 L178.18 59.63 L178.63 59.46 L179.08 59.29 L179.53 59.12 L179.98 58.95 L180.43 58.78 L180.88 58.61 L181.32 58.45 L181.77 58.28 L182.22 58.12 L182.67 57.96 L183.12 57.79 L183.57 57.63 L184.02 57.47 L184.47 57.31 L184.92 57.15 L185.37 56.99 L185.82 56.84 L186.27 56.68 L186.72 56.52 L187.17 56.37 L187.62 56.21 L188.07 56.06 L188.52 55.91 L188.97 55.75 L189.42 55.60 L189.87 55.45 L190.32 55.30 L190.77 55.15 L191.22 55.00 L191.67 54.85 L192.12 54.71 L192.57 54.56 L193.02 54.41 L193.47 54.27 L193.92 54.12 L194.36 53.98 L194.81 53.84 L195.26 53.70 L195.71 53.55 L196.16 53.41 L196.61 53.27 L197.06 53.13 L197.51 52.99 L197.96 52.86 L198.41 52.72 L198.86 52.58 L199.31 52.44 L199.76 52.31 L200.21 52.17 L200.66 52.04 L201.11 51.91 L201.56 51.77 L202.01 51.64 L202.46 51.51 L202.91 51.38 L203.36 51.25 L203.81 51.12 L204.26 50.99 L204.71 50.86 L205.16 50.73 L205.61 50.60 L206.06 50.48 L206.51 50.35 L206.96 50.22 L207.41 50.10 L207.85 49.97 L208.30 49.85 L208.75 49.73 L209.20 49.60 L209.65 49.48 L210.10 49.36 L210.55 49.24 L211.00 49.12 L211.45 49.00 L211.90 48.88 L212.35 48.76 L212.80 48.64 L213.25 48.52 L213.70 48.41 L214.15 48.29 L214.60 48.17 L215.05 48.06 L215.50 47.94 L215.95 47.83 L216.40 47.72 L216.85 47.60 L217.30 47.49 L217.75 47.38 L218.20 47.27 L218.65 47.16 L219.10 47.04 L219.55 46.93 L220.00 46.82 L220.45 46.72 L220.90 46.61 L221.34 46.50 L221.79 46.39 L222.24 46.28 L222.69 46.18 L223.14 46.07 L223.59 45.97 L224.04 45.86 L224.49 45.76 L224.94 45.65 L225.39 45.55 L225.84 45.45 L226.29 45.34 L226.74 45.24 L227.19 45.14 L227.64 45.04 L228.09 44.94 L228.54 44.84 L228.99 44.74 L229.44 44.64 L229.89 44.54 L230.34 44.44 L230.79 44.34 L231.24 44.25 L231.69 44.15 L232.14 44.05 L232.59 43.96 L233.04 43.86 L233.49 43.77 L233.94 43.67 L234.39 43.58 L234.83 43.49 L235.28 43.39 L235.73 43.30 L236.18 43.21 L236.63 43.12 L237.08 43.03 L237.53 42.93 L237.98 42.84 L238.43 42.75 L238.88 42.66 L239.33 42.57 L239.78 42.49 L240.23 42.40 L240.68 42.31 L241.13 42.22 L241.58 42.14 L242.03 42.05 L242.48 41.96 L242.93 41.88 L243.38 41.79 L243.83 41.71 L244.28 41.62 L244.73 41.54 L245.18 41.46 L245.63 41.37 L246.08 41.29 L246.53 41.21 L246.98 41.13 L247.43 41.04 L247.88 40.96 L248.32 40.88 L248.77 40.80 L249.22 40.72 L249.67 40.64 L250.12 40.56 L250.57 40.48 L251.02 40.41 L251.47 40.33 L251.92 40.25 L252.37 40.17 L252.82 40.10 L253.27 40.02 L253.72 39.95 L254.17 39.87 L254.62 39.79 L255.07 39.72 L255.52 39.65 L255.97 39.57 L256.42 39.50 L256.87 39.43 L257.32 39.35 L257.77 39.28 L258.22 39.21 L258.67 39.14 L259.12 39.07 L259.57 38.99 L260.02 38.92 L260.47 38.85 L260.92 38.78 L261.37 38.71 L261.81 38.65 L262.26 38.58 L262.71 38.51 L263.16 38.44 L263.61 38.37 L264.06 38.31 L264.51 38.24 L264.96 38.17 L265.41 38.11 L265.86 38.04 L266.31 37.98 L266.76 37.91 L267.21 37.85 L267.66 37.78 L268.11 37.72 L268.56 37.66 L269.01 37.59 L269.46 37.53 L269.91 37.47 L270.36 37.40 L270.81 37.34 L271.26 37.28 L271.71 37.22 L272.16 37.16 L272.61 37.10 L273.06 37.04 L273.51 36.98 L273.96 36.92 L274.41 36.86 L274.86 36.80 L275.30 36.74 L275.75 36.69 L276.20 36.63 L276.65 36.57 L277.10 36.52 L277.55 36.46 L278.00 36.40 L278.45 36.35 L278.90 36.29 L279.35 36.24 L279.80 36.18 L280.25 36.13 L280.70 36.07 L281.15 36.02 L281.60 35.97 L282.05 35.91 L282.50 35.86 L282.95 35.81 L283.40 35.75 L283.85 35.70 L284.30 35.65 L284.75 35.60 L285.20 35.55 L285.65 35.50 L286.10 35.45 L286.55 35.40 L287.00 35.35 L287.45 35.30 L287.90 35.25 L288.35 35.20 L288.80 35.15 L289.24 35.11 L289.69 35.06 L290.14 35.01 L290.59 34.97 L291.04 34.92 L291.49 34.87 L291.94 34.83 L292.39 34.78 L292.84 34.74 L293.29 34.69 L293.74 34.65 L294.19 34.60 L294.64 34.56 L295.09 34.51 L295.54 34.47 L295.99 34.43 L296.44 34.38 L296.89 34.34 L297.34 34.30 L297.79 34.26 L298.24 34.22 L298.69 34.17 L299.14 34.13 L299.59 34.09 L300.04 34.05 L300.49 34.01 L300.94 33.97 L301.39 33.93 L301.84 33.89 L302.29 33.86 L302.73 33.82 L303.18 33.78 L303.63 33.74 L304.08 33.70 L304.53 33.67 L304.98 33.63 L305.43 33.59 L305.88 33.56 L306.33 33.52 L306.78 33.49 L307.23 33.45 L307.68 33.41 L308.13 33.38 L308.58 33.35 L309.03 33.31 L309.48 33.28 L309.93 33.24 L310.38 33.21 L310.83 33.18 L311.28 33.14 L311.73 33.11 L312.18 33.08 L312.63 33.05 L313.08 33.02 L313.53 32.99 L313.98 32.95 L314.43 32.92 L314.88 32.89 L315.33 32.86 L315.77 32.83 L316.22 32.80 L316.67 32.77 L317.12 32.75 L317.57 32.72 L318.02 32.69 L318.47 32.66 L318.92 32.63 L319.37 32.61 L319.82 32.58 L320.27 32.55 L320.72 32.53 L321.17 32.50 L321.62 32.47 L322.07 32.45 L322.52 32.42 L322.97 32.40 L323.42 32.37 L323.87 32.35 L324.32 32.32 L324.77 32.30 L325.22 32.28 L325.67 32.25 L326.12 32.23 L326.57 32.21 L327.02 32.18 L327.47 32.16 L327.92 32.14 L328.37 32.12 L328.82 32.10 L329.26 32.08 L329.71 32.06 L330.16 32.03 L330.61 32.01 L331.06 31.99 L331.51 31.98 L331.96 31.96 L332.41 31.94 L332.86 31.92 L333.31 31.90 L333.76 31.88 L334.21 31.86 L334.66 31.85 L335.11 31.83 L335.56 31.81 L336.01 31.79 L336.46 31.78 L336.91 31.76 L337.36 31.75 L337.81 31.73 L338.26 31.71 L338.71 31.70 L339.16 31.68 L339.61 31.67 L340.06 31.66 L340.51 31.64 L340.96 31.63 L341.41 31.61 L341.86 31.60 L342.31 31.59 L342.75 31.58 L343.20 31.56 L343.65 31.55 L344.10 31.54 L344.55 31.53 L345.00 31.52 L345.45 31.51 L345.90 31.50 L346.35 31.48 L346.80 31.47 L347.25 31.46 L347.70 31.46 L348.15 31.45 L348.60 31.44 L349.05 31.43 L349.50 31.42" stroke="#00ff00" stroke-width="2.4" stroke-dasharray="6.5 1.96" stroke-dashoffset="2.4"/>
<path d="M64.61 416.82 L64.61 415.90 L64.61 414.98 L64.62 414.06 L64.62 413.14 L64.62 412.22 L64.62 411.30 L64.62 410.38 L64.63 409.47 L64.63 408.55 L64.63 407.63 L64.63 406.71 L64.64 405.79 L64.64 404.87 L64.64 403.95 L64.64 403.03 L64.65 402.11 L64.65 401.19 L64.65 400.28 L64.66 399.36 L64.66 398.44 L64.66 397.52 L64.66 396.60 L64.67 395.68 L64.67 394.76 L64.67 393.84 L64.68 392.92 L64.68 392.01 L64.68 391.09 L64.69 390.17 L64.69 389.25 L64.69 388.33 L64.70 387.41 L64.70 386.49 L64.71 385.57 L64.71 384.65 L64.71 383.73 L64.72 382.82 L64.72 381.90 L64.73 380.98 L64.73 380.06 L64.73 379.14 L64.74 378.22 L64.74 377.30 L64.75 376.38 L64.75 375.46 L64.76 374.55 L64.76 373.63 L64.77 372.71 L64.77 371.79 L64.78 370.87 L64.78 369.95 L64.79 369.03 L64.79 368.11 L64.80 367.19 L64.80 366.27 L64.81 365.36 L64.82 364.44 L64.82 363.52 L64.83 362.60 L64.83 361.68 L64.84 360.76 L64.85 359.84 L64.85 358.92 L64.86 358.00 L64.87 357.09 L64.87 356.17 L64.88 355.25 L64.89 354.33 L64.90 353.41 L64.90 352.49 L64.91 351.57 L64.92 350.65 L64.93 349.73 L64.93 348.81 L64.94 347.90 L64.95 346.98 L64.96 346.06 L64.97 345.14 L64.98 344.22 L64.99 343.30 L64.99 342.38 L65.00 341.46 L65.01 340.54 L65.02 339.62 L65.03 338.71 L65.04 337.79 L65.05 336.87 L65.06 335.95 L65.07 335.03 L65.08 334.11 L65.10 333.19 L65.11 332.27 L65.12 331.35 L65.13 330.44 L65.14 329.52 L65.15 328.60 L65.17 327.68 L65.18 326.76 L65.19 325.84 L65.20 324.92 L65.22 324.00 L65.23 323.08 L65.24 322.16 L65.26 321.25 L65.27 320.33 L65.29 319.41 L65.30 318.49 L65.32 317.57 L65.33 316.65 L65.35 315.73 L65.36 314.81 L65.38 313.89 L65.40 312.98 L65.41 312.06 L65.43 311.14 L65.45 310.22 L65.47 309.30 L65.48 308.38 L65.50 307.46 L65.52 306.54 L65.54 305.62 L65.56 304.70 L65.58 303.79 L65.60 302.87 L65.62 301.95 L65.64 301.03 L65.66 300.11 L65.69 299.19 L65.71 298.27 L65.73 297.35 L65.75 296.43 L65.78 295.52 L65.80 294.60 L65.83 293.68 L65.85 292.76 L65.88 291.84 L65.90 290.92 L65.93 290.00 L65.96 289.08 L65.98 288.16 L66.01 287.24 L66.04 286.33 L66.07 285.41 L66.10 284.49 L66.13 283.57 L66.16 282.65 L66.19 281.73 L66.22 280.81 L66.25 279.89 L66.29 278.97 L66.32 278.06 L66.35 277.14 L66.39 276.22 L66.42 275.30 L66.46 274.38 L66.50 273.46 L66.53 272.54 L66.57 271.62 L66.61 270.70 L66.65 269.79 L66.69 268.87 L66.73 267.95 L66.78 267.03 L66.82 266.11 L66.86 265.19 L66.91 264.27 L66.95 263.35 L67.00 262.43 L67.04 261.51 L67.09 260.60 L67.14 259.68 L67.19 258.76 L67.24 257.84 L67.29 256.92 L67.34 256.00 L67.40 255.08 L67.45 254.16 L67.51 253.24 L67.56 252.33 L67.62 251.41 L67.68 250.49 L67.74 249.57 L67.80 248.65 L67.86 247.73 L67.93 246.81 L67.99 245.89 L68.06 244.98 L68.12 244.06 L68.19 243.14 L68.26 242.22 L68.33 241.30 L68.40 240.38 L68.48 239.46 L68.55 238.54 L68.63 237.62 L68.71 236.71 L68.79 235.79 L68.87 234.87 L68.95 233.95 L69.03 233.03 L69.12 232.11 L69.20 231.19 L69.29 230.27 L69.38 229.36 L69.47 228.44 L69.57 227.52 L69.66 226.60 L69.76 225.68 L69.86 224.76 L69.96 223.84 L70.06 222.92 L70.17 222.01 L70.27 221.09 L70.38 220.17 L70.49 219.25 L70.60 218.33 L70.72 217.41 L70.84 216.49 L70.95 215.58 L71.08 214.66 L71.20 213.74 L71.33 212.82 L71.45 211.90 L71.58 210.98 L71.72 210.06 L71.85 209.15 L71.99 208.23 L72.13 207.31 L72.28 206.39 L72.42 205.47 L72.57 204.55 L72.72 203.63 L72.88 202.72 L73.03 201.80 L73.19 200.88 L73.36 199.96 L73.52 199.04 L73.69 198.12 L73.87 197.21 L74.04 196.29 L74.22 195.37 L74.40 194.45 L74.59 193.53 L74.78 192.62 L74.97 191.70 L75.17 190.78 L75.37 189.86 L75.58 188.94 L75.78 188.03 L76.00 187.11 L76.21 186.19 L76.43 185.27 L76.66 184.35 L76.88 183.44 L77.12 182.52 L77.35 181.60 L77.60 180.68 L77.84 179.77 L78.09 178.85 L78.35 177.93 L78.61 177.01 L78.87 176.10 L79.14 175.18 L79.42 174.26 L79.70 173.35 L80.15 171.91 L80.60 170.52 L81.05 169.16 L81.50 167.84 L81.95 166.55 L82.40 165.30 L82.85 164.08 L83.30 162.89 L83.75 161.73 L84.20 160.59 L84.65 159.48 L85.10 158.40 L85.55 157.34 L86.00 156.30 L86.44 155.28 L86.89 154.28 L87.34 153.31 L87.79 152.35 L88.24 151.41 L88.69 150.49 L89.14 149.58 L89.59 148.70 L90.04 147.83 L90.49 146.97 L90.94 146.13 L91.39 145.30 L91.84 144.49 L92.29 143.69 L92.74 142.90 L93.19 142.13 L93.64 141.37 L94.09 140.62 L94.54 139.88 L94.99 139.15 L95.44 138.44 L95.89 137.73 L96.34 137.04 L96.79 136.35 L97.24 135.67 L97.69 135.01 L98.14 134.35 L98.59 133.70 L99.04 133.06 L99.49 132.43 L99.94 131.81 L100.38 131.19 L100.83 130.59 L101.28 129.99 L101.73 129.39 L102.18 128.81 L102.63 128.23 L103.08 127.66 L103.53 127.10 L103.98 126.54 L104.43 125.99 L104.88 125.44 L105.33 124.91 L105.78 124.37 L106.23 123.85 L106.68 123.33 L107.13 122.81 L107.58 122.30 L108.03 121.80 L108.48 121.30 L108.93 120.81 L109.38 120.32 L109.83 119.84 L110.28 119.36 L110.73 118.89 L111.18 118.42 L111.63 117.96 L112.08 117.50 L112.53 117.04 L112.98 116.59 L113.43 116.15 L113.87 115.71 L114.32 115.27 L114.77 114.83 L115.22 114.41 L115.67 113.98 L116.12 113.56 L116.57 113.14 L117.02 112.73 L117.47 112.32 L117.92 111.91 L118.37 111.51 L118.82 111.11 L119.27 110.72 L119.72 110.32 L120.17 109.93 L120.62 109.55 L121.07 109.17 L121.52 108.79 L121.97 108.41 L122.42 108.04 L122.87 107.67 L123.32 107.30 L123.77 106.94 L124.22 106.58 L124.67 106.22 L125.12 105.86 L125.57 105.51 L126.02 105.16 L126.47 104.82 L126.92 104.47 L127.36 104.13 L127.81 103.79 L128.26 103.46 L128.71 103.12 L129.16 102.79 L129.61 102.46 L130.06 102.14 L130.51 101.81 L130.96 101.49 L131.41 101.17 L131.86 100.86 L132.31 100.54 L132.76 100.23 L133.21 99.92 L133.66 99.61 L134.11 99.31 L134.56 99.00 L135.01 98.70 L135.46 98.40 L135.91 98.11 L136.36 97.81 L136.81 97.52 L137.26 97.23 L137.71 96.94 L138.16 96.65 L138.61 96.37 L139.06 96.08 L139.51 95.80 L139.96 95.52 L140.41 95.24 L140.85 94.97 L141.30 94.69 L141.75 94.42 L142.20 94.15 L142.65 93.88 L143.10 93.62 L143.55 93.35 L144.00 93.09 L144.45 92.83 L144.90 92.57 L145.35 92.31 L145.80 92.05 L146.25 91.80 L146.70 91.54 L147.15 91.29 L147.60 91.04 L148.05 90.79 L148.50 90.54 L148.95 90.30 L149.40 90.05 L149.85 89.81 L150.30 89.57 L150.75 89.33 L151.20 89.09 L151.65 88.85 L152.10 88.62 L152.55 88.38 L153.00 88.15 L153.45 87.92 L153.89 87.69 L154.34 87.46 L154.79 87.23 L155.24 87.00 L155.69 86.78 L156.14 86.55 L156.59 86.33 L157.04 86.11 L157.49 85.89 L157.94 85.67 L158.39 85.45 L158.84 85.24 L159.29 85.02 L159.74 84.81 L160.19 84.60 L160.64 84.39 L161.09 84.18 L161.54 83.97 L161.99 83.76 L162.44 83.55 L162.89 83.35 L163.34 83.14 L163.79 82.94 L164.24 82.74 L164.69 82.53 L165.14 82.33 L165.59 82.14 L166.04 81.94 L166.49 81.74 L166.94 81.55 L167.38 81.35 L167.83 81.16 L168.28 80.96 L168.73 80.77 L169.18 80.58 L169.63 80.39 L170.08 80.20 L170.53 80.02 L170.98 79.83 L171.43 79.64 L171.88 79.46 L172.33 79.28 L172.78 79.09 L173.23 78.91 L173.68 78.73 L174.13 78.55 L174.58 78.37 L175.03 78.19 L175.48 78.02 L175.93 77.84 L176.38 77.66 L176.83 77.49 L177.28 77.32 L177.73 77.14 L178.18 76.97 L178.63 76.80 L179.08 76.63 L179.53 76.46 L179.98 76.29 L180.43 76.13 L180.88 75.96 L181.32 75.79 L181.77 75.63 L182.22 75.46 L182.67 75.30 L183.12 75.14 L183.57 74.98 L184.02 74.82 L184.47 74.66 L184.92 74.50 L185.37 74.34 L185.82 74.18 L186.27 74.02 L186.72 73.87 L187.17 73.71 L187.62 73.56 L188.07 73.40 L188.52 73.25 L188.97 73.10 L189.42 72.95 L189.87 72.79 L190.32 72.64 L190.77 72.50 L191.22 72.35 L191.67 72.20 L192.12 72.05 L192.57 71.90 L193.02 71.76 L193.47 71.61 L193.92 71.47 L194.36 71.33 L194.81 71.18 L195.26 71.04 L195.71 70.90 L196.16 70.76 L196.61 70.62 L197.06 70.48 L197.51 70.34 L197.96 70.20 L198.41 70.06 L198.86 69.93 L199.31 69.79 L199.76 69.65 L200.21 69.52 L200.66 69.38 L201.11 69.25 L201.56 69.12 L202.01 68.98 L202.46 68.85 L202.91 68.72 L203.36 68.59 L203.81 68.46 L204.26 68.33 L204.71 68.20 L205.16 68.07 L205.61 67.95 L206.06 67.82 L206.51 67.69 L206.96 67.57 L207.41 67.44 L207.85 67.32 L208.30 67.19 L208.75 67.07 L209.20 66.95 L209.65 66.83 L210.10 66.70 L210.55 66.58 L211.00 66.46 L211.45 66.34 L211.90 66.22 L212.35 66.10 L212.80 65.99 L213.25 65.87 L213.70 65.75 L214.15 65.64 L214.60 65.52 L215.05 65.40 L215.50 65.29 L215.95 65.17 L216.40 65.06 L216.85 64.95 L217.30 64.83 L217.75 64.72 L218.20 64.61 L218.65 64.50 L219.10 64.39 L219.55 64.28 L220.00 64.17 L220.45 64.06 L220.90 63.95 L221.34 63.84 L221.79 63.74 L222.24 63.63 L222.69 63.52 L223.14 63.42 L223.59 63.31 L224.04 63.21 L224.49 63.10 L224.94 63.00 L225.39 62.89 L225.84 62.79 L226.29 62.69 L226.74 62.59 L227.19 62.48 L227.64 62.38 L228.09 62.28 L228.54 62.18 L228.99 62.08 L229.44 61.98 L229.89 61.89 L230.34 61.79 L230.79 61.69 L231.24 61.59 L231.69 61.50 L232.14 61.40 L232.59 61.30 L233.04 61.21 L233.49 61.11 L233.94 61.02 L234.39 60.92 L234.83 60.83 L235.28 60.74 L235.73 60.64 L236.18 60.55 L236.63 60.46 L237.08 60.37 L237.53 60.28 L237.98 60.19 L238.43 60.10 L238.88 60.01 L239.33 59.92 L239.78 59.83 L240.23 59.74 L240.68 59.65 L241.13 59.57 L241.58 59.48 L242.03 59.39 L242.48 59.31 L242.93 59.22 L243.38 59.14 L243.83 59.05 L244.28 58.97 L244.73 58.88 L245.18 58.80 L245.63 58.72 L246.08 58.63 L246.53 58.55 L246.98 58.47 L247.43 58.39 L247.88 58.31 L248.32 58.23 L248.77 58.15 L249.22 58.07 L249.67 57.99 L250.12 57.91 L250.57 57.83 L251.02 57.75 L251.47 57.67 L251.92 57.60 L252.37 57.52 L252.82 57.44 L253.27 57.37 L253.72 57.29 L254.17 57.21 L254.62 57.14 L255.07 57.06 L255.52 56.99 L255.97 56.92 L256.42 56.84 L256.87 56.77 L257.32 56.70 L257.77 56.62 L258.22 56.55 L258.67 56.48 L259.12 56.41 L259.57 56.34 L260.02 56.27 L260.47 56.20 L260.92 56.13 L261.37 56.06 L261.81 55.99 L262.26 55.92 L262.71 55.85 L263.16 55.79 L263.61 55.72 L264.06 55.65 L264.51 55.58 L264.96 55.52 L265.41 55.45 L265.86 55.39 L266.31 55.32 L266.76 55.26 L267.21 55.19 L267.66 55.13 L268.11 55.06 L268.56 55.00 L269.01 54.94 L269.46 54.87 L269.91 54.81 L270.36 54.75 L270.81 54.69 L271.26 54.63 L271.71 54.56 L272.16 54.50 L272.61 54.44 L273.06 54.38 L273.51 54.32 L273.96 54.27 L274.41 54.21 L274.86 54.15 L275.30 54.09 L275.75 54.03 L276.20 53.97 L276.65 53.92 L277.10 53.86 L277.55 53.80 L278.00 53.75 L278.45 53.69 L278.90 53.64 L279.35 53.58 L279.80 53.53 L280.25 53.47 L280.70 53.42 L281.15 53.36 L281.60 53.31 L282.05 53.26 L282.50 53.20 L282.95 53.15 L283.40 53.10 L283.85 53.05 L284.30 53.00 L284.75 52.94 L285.20 52.89 L285.65 52.84 L286.10 52.79 L286.55 52.74 L287.00 52.69 L287.45 52.64 L287.90 52.60 L288.35 52.55 L288.80 52.50 L289.24 52.45 L289.69 52.40 L290.14 52.36 L290.59 52.31 L291.04 52.26 L291.49 52.22 L291.94 52.17 L292.39 52.13 L292.84 52.08 L293.29 52.03 L293.74 51.99 L294.19 51.95 L294.64 51.90 L295.09 51.86 L295.54 51.81 L295.99 51.77 L296.44 51.73 L296.89 51.69 L297.34 51.64 L297.79 51.60 L298.24 51.56 L298.69 51.52 L299.14 51.48 L299.59 51.44 L300.04 51.40 L300.49 51.36 L300.94 51.32 L301.39 51.28 L301.84 51.24 L302.29 51.20 L302.73 51.16 L303.18 51.12 L303.63 51.09 L304.08 51.05 L304.53 51.01 L304.98 50.97 L305.43 50.94 L305.88 50.90 L306.33 50.87 L306.78 50.83 L307.23 50.79 L307.68 50.76 L308.13 50.72 L308.58 50.69 L309.03 50.66 L309.48 50.62 L309.93 50.59 L310.38 50.55 L310.83 50.52 L311.28 50.49 L311.73 50.46 L312.18 50.42 L312.63 50.39 L313.08 50.36 L313.53 50.33 L313.98 50.30 L314.43 50.27 L314.88 50.24 L315.33 50.21 L315.77 50.18 L316.22 50.15 L316.67 50.12 L317.12 50.09 L317.57 50.06 L318.02 50.03 L318.47 50.01 L318.92 49.98 L319.37 49.95 L319.82 49.92 L320.27 49.90 L320.72 49.87 L321.17 49.84 L321.62 49.82 L322.07 49.79 L322.52 49.77 L322.97 49.74 L323.42 49.72 L323.87 49.69 L324.32 49.67 L324.77 49.64 L325.22 49.62 L325.67 49.60 L326.12 49.57 L326.57 49.55 L327.02 49.53 L327.47 49.51 L327.92 49.48 L328.37 49.46 L328.82 49.44 L329.26 49.42 L329.71 49.40 L330.16 49.38 L330.61 49.36 L331.06 49.34 L331.51 49.32 L331.96 49.30 L332.41 49.28 L332.86 49.26 L333.31 49.24 L333.76 49.23 L334.21 49.21 L334.66 49.19 L335.11 49.17 L335.56 49.16 L336.01 49.14 L336.46 49.12 L336.91 49.11 L337.36 49.09 L337.81 49.07 L338.26 49.06 L338.71 49.04 L339.16 49.03 L339.61 49.01 L340.06 49.00 L340.51 48.99 L340.96 48.97 L341.41 48.96 L341.86 48.95 L342.31 48.93 L342.75 48.92 L343.20 48.91 L343.65 48.90 L344.10 48.88 L344.55 48.87 L345.00 48.86 L345.45 48.85 L345.90 48.84 L346.35 48.83 L346.80 48.82 L347.25 48.81 L347.70 48.80 L348.15 48.79 L348.60 48.78 L349.05 48.77 L349.50 48.76" stroke="#00ffff" stroke-width="2.4" stroke-dasharray="6.2 2.2 2.9 2.2" stroke-dashoffset="2.7"/>
<path d="M64.5 134.85 H349.5" stroke="#0000ff" stroke-width="2.4" stroke-dasharray="3.0 2.17" stroke-dashoffset="1.0"/>
<path d="M64.5 164.7 H349.5" stroke="#00ff00" stroke-width="2.4" stroke-dasharray="6.5 1.96" stroke-dashoffset="1.1"/>
</g>
<rect x="64.5" y="19.5" width="284.6" height="284.4" fill="none" stroke="#7d7d7d" stroke-width="1"/>
<path d="M64.50 303.9 v-3.7 M64.50 19.5 v3.7 M73.99 303.9 v-2.1 M73.99 19.5 v2.1 M83.47 303.9 v-2.1 M83.47 19.5 v2.1 M92.96 303.9 v-2.1 M92.96 19.5 v2.1 M102.45 303.9 v-3.7 M102.45 19.5 v3.7 M111.93 303.9 v-2.1 M111.93 19.5 v2.1 M121.42 303.9 v-2.1 M121.42 19.5 v2.1 M130.91 303.9 v-2.1 M130.91 19.5 v2.1 M140.39 303.9 v-3.7 M140.39 19.5 v3.7 M149.88 303.9 v-2.1 M149.88 19.5 v2.1 M159.37 303.9 v-2.1 M159.37 19.5 v2.1 M168.85 303.9 v-2.1 M168.85 19.5 v2.1 M178.34 303.9 v-3.7 M178.34 19.5 v3.7 M187.83 303.9 v-2.1 M187.83 19.5 v2.1 M197.31 303.9 v-2.1 M197.31 19.5 v2.1 M206.80 303.9 v-2.1 M206.80 19.5 v2.1 M216.29 303.9 v-3.7 M216.29 19.5 v3.7 M225.77 303.9 v-2.1 M225.77 19.5 v2.1 M235.26 303.9 v-2.1 M235.26 19.5 v2.1 M244.75 303.9 v-2.1 M244.75 19.5 v2.1 M254.23 303.9 v-3.7 M254.23 19.5 v3.7 M263.72 303.9 v-2.1 M263.72 19.5 v2.1 M273.21 303.9 v-2.1 M273.21 19.5 v2.1 M282.69 303.9 v-2.1 M282.69 19.5 v2.1 M292.18 303.9 v-3.7 M292.18 19.5 v3.7 M301.67 303.9 v-2.1 M301.67 19.5 v2.1 M311.15 303.9 v-2.1 M311.15 19.5 v2.1 M320.64 303.9 v-2.1 M320.64 19.5 v2.1 M330.13 303.9 v-3.7 M330.13 19.5 v3.7 M339.61 303.9 v-2.1 M339.61 19.5 v2.1 M349.10 303.9 v-2.1 M349.10 19.5 v2.1" stroke="#808080" stroke-width="0.7" fill="none"/>
<path d="M64.5 303.90 h3.0 M349.1 303.90 h-3.0 M64.5 286.78 h1.3 M349.1 286.78 h-1.3 M64.5 276.76 h1.3 M349.1 276.76 h-1.3 M64.5 269.65 h1.3 M349.1 269.65 h-1.3 M64.5 264.14 h1.3 M349.1 264.14 h-1.3 M64.5 259.64 h1.3 M349.1 259.64 h-1.3 M64.5 255.83 h1.3 M349.1 255.83 h-1.3 M64.5 252.53 h1.3 M349.1 252.53 h-1.3 M64.5 249.62 h1.3 M349.1 249.62 h-1.3 M64.5 247.02 h3.0 M349.1 247.02 h-3.0 M64.5 229.90 h1.3 M349.1 229.90 h-1.3 M64.5 219.88 h1.3 M349.1 219.88 h-1.3 M64.5 212.77 h1.3 M349.1 212.77 h-1.3 M64.5 207.26 h1.3 M349.1 207.26 h-1.3 M64.5 202.76 h1.3 M349.1 202.76 h-1.3 M64.5 198.95 h1.3 M349.1 198.95 h-1.3 M64.5 195.65 h1.3 M349.1 195.65 h-1.3 M64.5 192.74 h1.3 M349.1 192.74 h-1.3 M64.5 190.14 h3.0 M349.1 190.14 h-3.0 M64.5 173.02 h1.3 M349.1 173.02 h-1.3 M64.5 163.00 h1.3 M349.1 163.00 h-1.3 M64.5 155.89 h1.3 M349.1 155.89 h-1.3 M64.5 150.38 h1.3 M349.1 150.38 h-1.3 M64.5 145.88 h1.3 M349.1 145.88 h-1.3 M64.5 142.07 h1.3 M349.1 142.07 h-1.3 M64.5 138.77 h1.3 M349.1 138.77 h-1.3 M64.5 135.86 h1.3 M349.1 135.86 h-1.3 M64.5 133.26 h3.0 M349.1 133.26 h-3.0 M64.5 116.14 h1.3 M349.1 116.14 h-1.3 M64.5 106.12 h1.3 M349.1 106.12 h-1.3 M64.5 99.01 h1.3 M349.1 99.01 h-1.3 M64.5 93.50 h1.3 M349.1 93.50 h-1.3 M64.5 89.00 h1.3 M349.1 89.00 h-1.3 M64.5 85.19 h1.3 M349.1 85.19 h-1.3 M64.5 81.89 h1.3 M349.1 81.89 h-1.3 M64.5 78.98 h1.3 M349.1 78.98 h-1.3 M64.5 76.38 h3.0 M349.1 76.38 h-3.0 M64.5 59.26 h1.3 M349.1 59.26 h-1.3 M64.5 49.24 h1.3 M349.1 49.24 h-1.3 M64.5 42.13 h1.3 M349.1 42.13 h-1.3 M64.5 36.62 h1.3 M349.1 36.62 h-1.3 M64.5 32.12 h1.3 M349.1 32.12 h-1.3 M64.5 28.31 h1.3 M349.1 28.31 h-1.3 M64.5 25.01 h1.3 M349.1 25.01 h-1.3 M64.5 22.10 h1.3 M349.1 22.10 h-1.3 M64.5 19.50 h3.0 M349.1 19.50 h-3.0" stroke="#909090" stroke-width="0.6" fill="none"/>
<path d="M145.8 207.9 H185.6" stroke="#ff0000" stroke-width="1.6"/>
<path d="M145.8 234.0 H185.6" stroke="#0000ff" stroke-width="1.6" stroke-dasharray="2.5 2.07"/>
<path d="M145.8 260.0 H185.6" stroke="#00ff00" stroke-width="1.6" stroke-dasharray="5.9 2.43"/>
<path d="M145.8 286.0 H185.6" stroke="#00ffff" stroke-width="1.6" stroke-dasharray="2.8 2 6.5 2"/>
<text x="64.5" y="316.8" font-size="10" fill="#666" text-anchor="middle">0.0</text>
<text x="102.4" y="316.8" font-size="10" fill="#666" text-anchor="middle">0.2</text>
<text x="140.4" y="316.8" font-size="10" fill="#666" text-anchor="middle">0.4</text>
<text x="178.3" y="316.8" font-size="10" fill="#666" text-anchor="middle">0.6</text>
<text x="216.3" y="316.8" font-size="10" fill="#666" text-anchor="middle">0.8</text>
<text x="254.2" y="316.8" font-size="10" fill="#666" text-anchor="middle">1.0</text>
<text x="292.2" y="316.8" font-size="10" fill="#666" text-anchor="middle">1.2</text>
<text x="330.1" y="316.8" font-size="10" fill="#666" text-anchor="middle">1.4</text>
<text x="60.8" y="23.1" font-size="10" fill="#666" text-anchor="end">100</text>
<text x="60.8" y="80.0" font-size="10" fill="#666" text-anchor="end">10</text>
<text x="60.8" y="136.9" font-size="10" fill="#666" text-anchor="end">1</text>
<text x="60.8" y="193.7" font-size="10" fill="#666" text-anchor="end">0.100</text>
<text x="60.8" y="250.6" font-size="10" fill="#666" text-anchor="end">0.010</text>
<text x="60.8" y="307.5" font-size="10" fill="#666" text-anchor="end">0.001</text>
<text transform="translate(195.1 213.30) scale(1.04 1)" font-size="14.7" font-weight="bold" fill="#000">Γ(S</text>
<path d="M220.7 208.70 H230.6 M227.0 205.00 L231.2 208.70 L227.0 212.40" fill="none" stroke="#000" stroke-width="1.7" stroke-linejoin="miter"/>
<text transform="translate(233.2 213.30) scale(1.04 1)" font-size="14.7" font-weight="bold" fill="#000">hh)</text>
<text transform="translate(195.1 239.40) scale(1.04 1)" font-size="14.7" font-weight="bold" fill="#000">Γ(S</text>
<path d="M220.7 234.80 H230.6 M227.0 231.10 L231.2 234.80 L227.0 238.50" fill="none" stroke="#000" stroke-width="1.7" stroke-linejoin="miter"/>
<text transform="translate(233.2 239.40) scale(1.04 1)" font-size="14.7" font-weight="bold" fill="#000">WW)</text>
<text transform="translate(195.1 265.40) scale(1.04 1)" font-size="14.7" font-weight="bold" fill="#000">Γ(S</text>
<path d="M220.7 260.80 H230.6 M227.0 257.10 L231.2 260.80 L227.0 264.50" fill="none" stroke="#000" stroke-width="1.7" stroke-linejoin="miter"/>
<text transform="translate(233.2 265.40) scale(1.04 1)" font-size="14.7" font-weight="bold" fill="#000">ZZ)</text>
<text transform="translate(195.1 291.40) scale(1.04 1)" font-size="14.7" font-weight="bold" fill="#000">Γ(S</text>
<path d="M220.7 286.80 H230.6 M227.0 283.10 L231.2 286.80 L227.0 290.50" fill="none" stroke="#000" stroke-width="1.7" stroke-linejoin="miter"/>
<text transform="translate(233.2 291.40) scale(1.04 1)" font-size="14.7" font-weight="bold" fill="#000">tt)</text>
<text x="116.0" y="351.2" font-size="25" fill="#666" letter-spacing="0.4"><tspan font-style="italic">θ</tspan> (mixing angle)</text>
<g transform="translate(24.3 243.5) rotate(-90)" fill="#666">
<text x="0" y="0" font-size="25">Γ(S</text>
<path d="M38.9 -9.4 H59.6 M53.2 -15.7 L60.1 -9.4 L53.2 -3.1" fill="none" stroke="#666" stroke-width="1.9"/>
<text x="62.0" y="0" font-size="25" letter-spacing="0.25">XX)/GeV</text>
</g>
</svg>
</body></html>
